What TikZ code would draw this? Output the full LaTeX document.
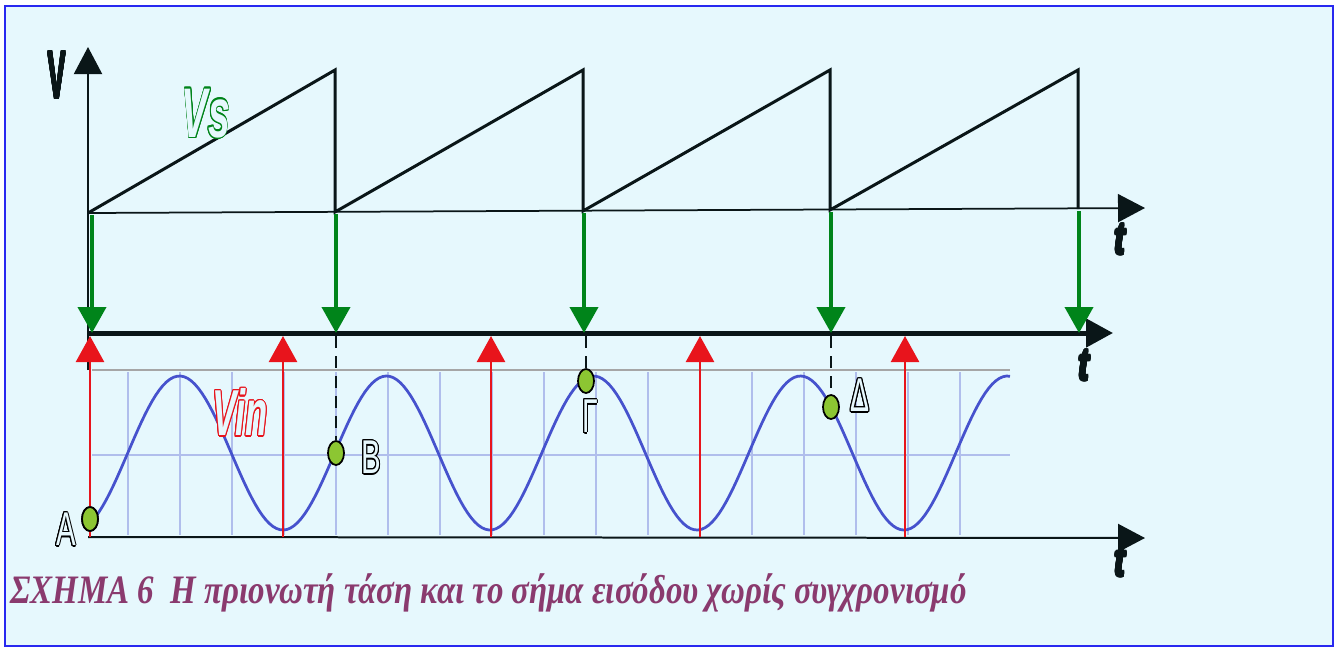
\documentclass[tikz,border=0pt]{standalone}
\usepackage{fontspec}
\setmainfont{Liberation Serif}
\newfontfamily\labelfont{Liberation Sans}
\usepackage{contour}
\usetikzlibrary{positioning,arrows.meta,shapes.geometric}

\definecolor{panelbg}{RGB}{230,248,253}
\definecolor{framblue}{RGB}{40,40,240}
\definecolor{sawblack}{RGB}{10,22,24}
\definecolor{trggreen}{RGB}{0,132,26}
\definecolor{trgred}{RGB}{232,20,28}
\definecolor{dotgreen}{RGB}{140,198,50}
\definecolor{wavblue}{RGB}{70,82,205}
\definecolor{gridblue}{RGB}{176,190,236}
\definecolor{capplum}{RGB}{138,58,110}

\contourlength{0.8pt}
\newcommand{\hollow}[2]{\contour{#1}{\textcolor{panelbg}{#2}}}
\newcommand{\heavy}[1]{\contour{sawblack}{\textcolor{sawblack}{#1}}}
\newcommand{\narrow}[2]{\scalebox{#1}[1]{#2}}

\begin{document}
\begin{tikzpicture}[x=0.02cm,y=-0.02cm,
    saw/.style={line width=0.06cm,draw=sawblack,line join=miter},
    axis/.style={line width=0.04cm,draw=sawblack,-{Triangle[width=0.56cm,length=0.54cm]}},
    trig/.style={line width=0.08cm,draw=trggreen,-{Triangle[width=0.56cm,length=0.52cm]}},
    sync/.style={line width=0.05cm,draw=trgred,-{Triangle[width=0.56cm,length=0.52cm]}},
    mark line/.style={line width=0.04cm,draw=sawblack,dash pattern=on 0.24cm off 0.16cm},
    dot/.style={ellipse,draw=black,fill=dotgreen,line width=0.035cm,inner sep=0pt,
      minimum width=0.32cm,minimum height=0.48cm},
    ptlabel/.style={inner sep=0pt,font=\labelfont\fontsize{27}{30}\selectfont},
    tlabel/.style={inner sep=0pt,font=\labelfont\bfseries\itshape\fontsize{26}{30}\selectfont},
    gridline/.style={line width=0.04cm,draw=gridblue}]

    % Background and frame
    \fill[white] (0,0) rectangle (1338,650);
    \draw[framblue,line width=0.04cm,fill=panelbg] (5,6) rectangle (1333,646);

    % Set coordinates
    \coordinate (s1) at (88,213);
    \coordinate (s2) at (335,212);
    \coordinate (s3) at (583,211);
    \coordinate (s4) at (830,210);
    \coordinate (s5) at (1078,209);
    \coordinate (p1) at (335,70);
    \coordinate (p2) at (583,70);
    \coordinate (p3) at (830,70);
    \coordinate (p4) at (1078,70);
    \coordinate (vtop) at (88,47);
    \coordinate (vfoot) at (88,370);
    \coordinate (tend) at (1145,208);
    \coordinate (m0) at (88,333);
    \coordinate (mend) at (1113,333);
    \coordinate (b0) at (88,537);
    \coordinate (bend) at (1145,538);

    % Grid behind the input signal
    \foreach \gx in {128,180,...,960}
      \draw[gridline] (\gx,372) -- (\gx,535);
    \draw[gridline] (92,455) -- (1010,455);
    \draw[line width=0.04cm,draw=gray!70] (92,370) -- (1010,370);

    % Input signal
    \draw[wavblue,line width=0.055cm,line join=round]
      plot[domain=92:1010,samples=260] (\x,{453+77*cos(1.7391*(\x-283))});

    % Axes
    \draw[axis] (vfoot) -- (vtop);
    \draw[line width=0.035cm,draw=sawblack,-{Triangle[width=0.56cm,length=0.54cm]}] (s1) -- (tend);
    \draw[line width=0.1cm,draw=sawblack,-{Triangle[width=0.56cm,length=0.54cm]}] (m0) -- (mend);
    \draw[axis] (b0) -- (bend);

    % Sawtooth
    \draw[saw] (s1) -- (p1) -- (s2) -- (p2) -- (s3) -- (p3) -- (s4) -- (p4) -- (s5);

    % Trigger pulses at the end of each ramp
    \draw[trig] (92,215) -- (92,333);
    \draw[trig] (336,214) -- (336,333);
    \draw[trig] (584,213) -- (584,333);
    \draw[trig] (831,212) -- (831,333);
    \draw[trig] (1079,211) -- (1079,333);

    % Points of the input signal
    \node[dot] (dA) at (90,519) {};
    \node[dot] (dB) at (336,453) {};
    \node[dot] (dG) at (586,381) {};
    \node[dot] (dD) at (831,407) {};
    \draw[mark line] (336,336) -- (dB.north);
    \draw[mark line] (586,336) -- (dG.north);
    \draw[mark line] (831,336) -- (dD.north);

    % Sync pulses from the signal minima
    \draw[sync] (90,537) -- (90,336);
    \draw[sync] (283,537) -- (283,336);
    \draw[sync] (491,537) -- (491,336);
    \draw[sync] (700,537) -- (700,336);
    \draw[sync] (905,537) -- (905,336);
    \node[dot] at (dA) {};

    % Labels
    \node[ptlabel] (lA) at (66,530) {\narrow{0.62}{\hollow{black}{Α}}};
    \node[ptlabel] (lB) at (371,458) {\narrow{0.62}{\hollow{black}{Β}}};
    \node[ptlabel] (lG) at (590,417) {\narrow{0.6}{\hollow{black}{Γ}}};
    \node[ptlabel] (lD) at (860,396) {\narrow{0.6}{\hollow{black}{Δ}}};
    \node[inner sep=0pt,font=\labelfont\bfseries\fontsize{38}{40}\selectfont]
      (lV) at (57,76) {\narrow{0.4}{\heavy{V}}};
    \node[inner sep=0pt,font=\labelfont\bfseries\itshape\fontsize{40}{42}\selectfont]
      (lVs) at (206,114) {\narrow{0.56}{\hollow{trggreen}{Vs}}};
    \node[inner sep=0pt,font=\labelfont\bfseries\itshape\fontsize{37}{40}\selectfont]
      (lVin) at (240,413) {\narrow{0.56}{\hollow{trgred}{Vin}}};
    \node[tlabel] (t1) at (1120,240) {\narrow{0.7}{\heavy{t}}};
    \node[tlabel] (t2) at (1084,366) {\narrow{0.7}{\heavy{t}}};
    \node[tlabel] (t3) at (1120,562) {\narrow{0.7}{\heavy{t}}};

    % Caption
    \node[anchor=base west,inner sep=0pt,text=capplum,
      font=\bfseries\itshape\fontsize{23}{25}\selectfont] (cap) at (10,603)
      {\narrow{0.815}{ΣΧΗΜΑ 6\ \ Η πριονωτή τάση και το σήμα εισόδου χωρίς συγχρονισμό}};
\end{tikzpicture}
\end{document}
